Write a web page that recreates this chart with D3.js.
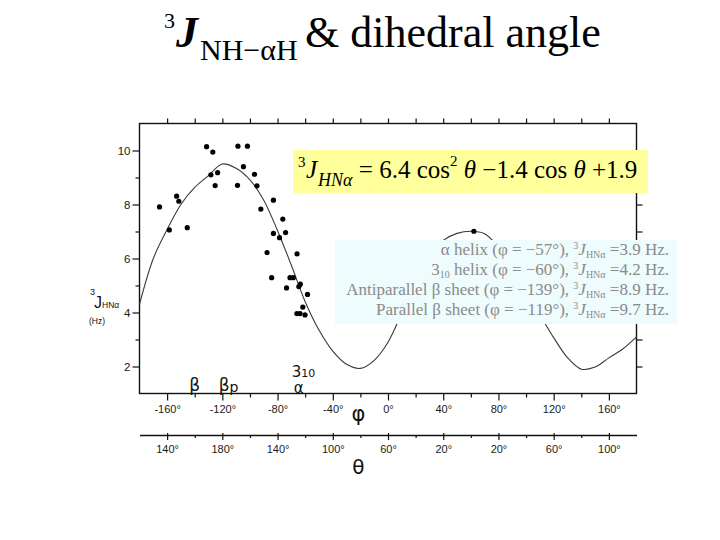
<!DOCTYPE html>
<html><head><meta charset="utf-8">
<script src="https://cdn.jsdelivr.net/npm/d3@7/dist/d3.min.js"></script>
<style>body{margin:0;background:#fff}svg{display:block}</style>
</head><body>
<svg id="c" width="720" height="540"></svg>
<script>
// ---- data ----
const curvePhi = [-180,-170,-160,-150,-140,-130,-120,-110,-100,-90,-80,-70,-60,-50,-40,-30,-20,-10,0,10,20,30,40,50,60,70,80,90,100,110,120,130,140,150,160,170,180];
const curveJ   = [4.3,6.0,7.07,8.0,8.63,9.07,9.5,9.34,8.91,8.16,7.03,5.75,4.4,3.35,2.57,2.08,1.93,2.23,2.9,3.99,5.24,6.18,6.67,6.93,7.01,6.92,6.42,5.62,4.78,3.92,3.07,2.33,1.9,1.98,2.32,2.65,3.1];
const pointPhi = [-165.5,-158.4,-153.1,-151.5,-145.4,-131.4,-126.9,-128.3,-123.4,-125.2,-108.7,-101.8,-104.7,-109.0,-96.7,-94.9,-92.1,-83.0,-83.0,-78.6,-76.2,-74.2,-87.6,-84.3,-73.5,-71.0,-68.6,-65.9,-64.6,-63.5,-58.3,-61.7,-66.0,-63.7,-60.1,62.2];
const pointJ   = [7.91,7.06,8.31,8.12,7.14,10.14,9.94,9.10,9.18,8.70,10.16,10.16,9.40,8.71,9.12,8.69,7.83,8.16,6.93,6.77,7.46,6.96,6.22,5.29,4.91,5.29,5.29,6.17,4.96,5.05,4.67,4.20,3.96,3.96,3.91,7.01];
const phiTicks = [-160,-120,-80,-40,0,40,80,120,160];
const phiTickLabels = ["-160°","-120°","-80°","-40°","0°","40°","80°","120°","160°"];
const thetaTickLabels = ["140°","180°","140°","100°","60°","20°","20°","60°","100°"];
const yTicks = [2,4,6,8,10];
const structLabels = ["β","β","α"];
const structPhi = [-140,-119,-64];
const infoLines = [
  {pre:"α helix (φ = −57°), ", val:"3.9"},
  {pre:"3", sub10:true, pre2:" helix (φ = −60°), ", val:"4.2"},
  {pre:"Antiparallel β sheet (φ = −139°), ", val:"8.9"},
  {pre:"Parallel β sheet (φ = −119°), ", val:"9.7"}
];

const svg = d3.select("#c");
const x = d3.scaleLinear().domain([-180,180]).range([139.5,636.5]);
const y = d3.scaleLinear().domain([1,11]).range([393.5,123.5]);
const SANS = "Liberation Sans, Arial, sans-serif";
const SERIF = "Liberation Serif, DejaVu Serif, serif";

// ---- title ----
const t = svg.append("text").style("font-family",SERIF).attr("fill","#000");
t.append("tspan").attr("x",164).attr("y",28).style("font-family",SERIF).attr("font-size",22).text("3");
t.append("tspan").attr("x",176).attr("y",47).style("font-family",SERIF).attr("font-size",44).attr("font-weight","bold").attr("font-style","italic").text("J");
t.append("tspan").attr("x",200).attr("y",60).style("font-family",SERIF).attr("font-size",30).text("NH−αH");
t.append("tspan").attr("x",305).attr("y",47).style("font-family",SERIF).attr("font-size",44).text("& dihedral angle");

// ---- frame ----
svg.append("rect").attr("x",x.range()[0]).attr("y",y.range()[1])
  .attr("width",x.range()[1]-x.range()[0]).attr("height",y.range()[0]-y.range()[1])
  .attr("fill","none").attr("stroke","#111").attr("stroke-width",1.4);

// left axis
const gl = svg.append("g").attr("transform",`translate(${x.range()[0]},0)`)
  .call(d3.axisLeft(y).tickValues(d3.range(2,11,1)).tickSize(0).tickFormat(""));
gl.select(".domain").remove();
gl.selectAll(".tick").append("line").attr("x1",0).attr("x2",d=>d%2===0?-7:-4).attr("stroke","#111").attr("stroke-width",1.2);
gl.selectAll(".tick").filter(d=>yTicks.includes(d)).append("text")
  .attr("x",-9).attr("dy","0.35em").attr("text-anchor","end")
  .style("font-family",SANS).attr("font-size",11.5).attr("fill","#1a1a1a").text(d=>d);

// right axis ticks
const gr = svg.append("g").attr("transform",`translate(${x.range()[1]},0)`)
  .call(d3.axisRight(y).tickValues(d3.range(2,11,1)).tickSize(6).tickFormat(""));
gr.select(".domain").remove();
gr.selectAll("line").attr("stroke","#111").attr("stroke-width",1.2);

// top axis ticks
const gt = svg.append("g").attr("transform",`translate(0,${y.range()[1]})`)
  .call(d3.axisTop(x).tickValues(d3.range(-160,180,20)).tickSize(5).tickFormat(""));
gt.select(".domain").remove();
gt.selectAll("line").attr("stroke","#111").attr("stroke-width",1.2);

// bottom phi axis
const gb = svg.append("g").attr("transform",`translate(0,${y.range()[0]})`)
  .call(d3.axisBottom(x).tickValues(d3.range(-160,180,20)).tickSize(0).tickFormat(""));
gb.select(".domain").remove();
gb.selectAll(".tick").append("line").attr("y1",0).attr("y2",d=>d%40===0?7:4).attr("stroke","#111").attr("stroke-width",1.2);
gb.selectAll(".tick").filter(d=>phiTicks.includes(d)).append("text")
  .attr("y",19).attr("text-anchor","middle").style("font-family",SANS).attr("font-size",11)
  .attr("fill","#1a1a1a").text(d=>phiTickLabels[phiTicks.indexOf(d)]);
svg.append("text").attr("x",x(-20)-2).attr("y",421).attr("text-anchor","middle")
  .style("font-family","DejaVu Sans, sans-serif").attr("font-size",21).attr("fill","#111").text("φ");

// theta axis
const th = svg.append("g").attr("transform","translate(0,435)")
  .call(d3.axisBottom(x).tickValues(d3.range(-160,180,20)).tickSize(0).tickFormat(""));
th.select(".domain").attr("stroke","#111").attr("stroke-width",1.4);
th.selectAll(".tick").append("line").attr("y1",d=>d%40===0?-2:0).attr("y2",d=>d%40===0?5:3).attr("stroke","#111").attr("stroke-width",1.2);
th.selectAll(".tick").filter(d=>phiTicks.includes(d)).append("text")
  .attr("y",18).attr("text-anchor","middle").style("font-family",SANS).attr("font-size",11)
  .attr("fill","#1a1a1a").text(d=>thetaTickLabels[phiTicks.indexOf(d)]);
svg.append("text").attr("x",x(-20)-2).attr("y",474).attr("text-anchor","middle")
  .style("font-family","DejaVu Sans, sans-serif").attr("font-size",20).attr("fill","#111").text("θ");

// y label
const yl = svg.append("text").style("font-family",SANS).attr("fill","#111");
yl.append("tspan").attr("x",90).attr("y",295).attr("font-size",9).text("3");
yl.append("tspan").attr("x",94).attr("y",308).attr("font-size",16).text("J");
yl.append("tspan").attr("x",102).attr("y",308).attr("font-size",8.5).text("HNα");
svg.append("text").attr("x",89).attr("y",324).style("font-family",SANS).attr("font-size",8.5).attr("fill","#111").text("(Hz)");

// structure labels at bottom of frame
const sl = svg.append("g").style("font-family","DejaVu Sans, sans-serif").attr("fill","#111");
sl.append("text").attr("x",x(structPhi[0])).attr("y",391).attr("text-anchor","middle").attr("font-size",17).text(structLabels[0]);
const bp = sl.append("text").attr("x",x(structPhi[1])-5).attr("y",391).attr("font-size",17);
bp.append("tspan").text(structLabels[1]);
bp.append("tspan").attr("font-size",14).attr("dy",1).text("p");
sl.append("text").attr("x",x(structPhi[2])-1).attr("y",393).attr("text-anchor","middle").attr("font-size",15).text(structLabels[2]);
const s310 = sl.append("text").attr("x",x(structPhi[2])-8).attr("y",377).attr("font-size",15);
s310.append("tspan").text("3");
s310.append("tspan").attr("font-size",11).attr("dy",0).text("10");

// curve
const curveData = curvePhi.map((p,i)=>({p, j:curveJ[i]}));
svg.append("path").datum(curveData)
  .attr("d", d3.line().x(d=>x(d.p)).y(d=>y(d.j)).curve(d3.curveCatmullRom.alpha(0.5)))
  .attr("fill","none").attr("stroke","#3a3a3a").attr("stroke-width",1.1);

// points
svg.append("g").selectAll("circle").data(pointPhi.map((p,i)=>({p, j:pointJ[i]})))
  .join("circle").attr("cx",d=>x(d.p)).attr("cy",d=>y(d.j)).attr("r",2.6).attr("fill","#000");

// yellow formula box
svg.append("rect").attr("x",293).attr("y",150).attr("width",355).attr("height",43).attr("fill","#ffff9c");
const FS = 25;
const f = svg.append("text").style("font-family",SERIF).attr("fill","#000").attr("y",178);
f.append("tspan").attr("x",298).attr("y",167).attr("font-size",15).text("3");
f.append("tspan").attr("x",306).attr("y",178).attr("font-size",FS).attr("font-style","italic").text("J");
f.append("tspan").attr("dx",1).attr("y",186).attr("font-size",18).attr("font-style","italic").text("HNα");
f.append("tspan").attr("y",178).attr("font-size",FS).text(" = 6.4 cos");
f.append("tspan").attr("y",166).attr("font-size",15).text("2");
f.append("tspan").attr("y",178).attr("font-size",FS).attr("font-style","italic").text(" θ");
f.append("tspan").attr("font-size",FS).text(" −1.4 cos");
f.append("tspan").attr("font-size",FS).attr("font-style","italic").text(" θ");
f.append("tspan").attr("font-size",FS).text(" +1.9");

// cyan info box
svg.append("rect").attr("x",335).attr("y",240).attr("width",342).attr("height",84).attr("fill","#effcfd");
const info = svg.append("g").style("font-family",SERIF).attr("fill","#8a8a8a").attr("font-size",17);
infoLines.forEach((l,i)=>{
  const tx = info.append("text").attr("x",669).attr("y",255+20*i).attr("text-anchor","end");
  tx.append("tspan").text(l.pre);
  if(l.sub10){ tx.append("tspan").attr("font-size",10).attr("dy",3).text("10"); tx.append("tspan").attr("dy",-3).text(l.pre2); }
  tx.append("tspan").attr("font-size",10).attr("dy",-6).text("3");
  tx.append("tspan").attr("dy",6).attr("font-style","italic").text("J");
  tx.append("tspan").attr("font-size",10).attr("dy",3).text("HNα");
  tx.append("tspan").attr("dy",-3).text(" =" + l.val + " Hz.");
});
</script>
</body></html>
